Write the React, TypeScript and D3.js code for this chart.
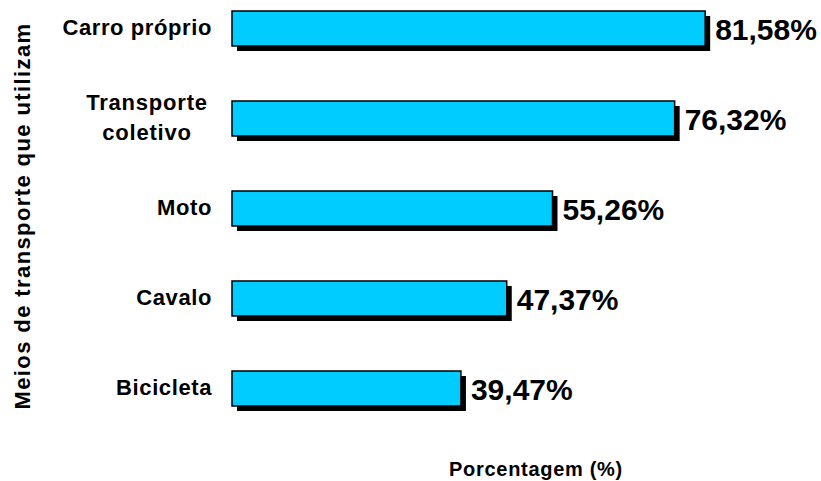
import React from "react";
import * as d3 from "d3";

const categories: string[][] = [
  ["Carro próprio"],
  ["Transporte", "coletivo"],
  ["Moto"],
  ["Cavalo"],
  ["Bicicleta"],
];
const values: number[] = [81.58, 76.32, 55.26, 47.37, 39.47];
const valueLabels: string[] = ["81,58%", "76,32%", "55,26%", "47,37%", "39,47%"];
const yTitle = "Meios de transporte que utilizam";
const xTitle = "Porcentagem (%)";

const W = 821;
const H = 481;
const FONT = "'Liberation Sans', Arial, sans-serif";

export default function App() {
  const x = d3.scaleLinear().domain([0, 100]).range([232, 812]);
  const y = d3
    .scaleBand<number>()
    .domain(d3.range(values.length))
    .range([-16.5, 433.5])
    .paddingInner(0.611)
    .paddingOuter(0.3055);
  const bh = y.bandwidth();
  const sh = 5;
  return (
    <svg
      width={W}
      height={H}
      style={{ position: "absolute", left: 0, top: 0, background: "#fff" }}
      fontFamily={FONT}
    >
      {values.map((v, i) => {
        const y0 = y(i)!;
        const cy = y0 + bh / 2;
        const lines = categories[i];
        const lh = 30;
        return (
          <g key={i}>
            <rect x={x(0) + sh} y={y0 + sh} width={x(v) - x(0)} height={bh} fill="#000" />
            <rect
              x={x(0)}
              y={y0}
              width={x(v) - x(0)}
              height={bh}
              fill="#00ccff"
              stroke="#000"
              strokeWidth={1.5}
            />
            <text
              x={x(v) + sh + 5}
              y={cy + 11}
              fontSize={30}
              fontWeight="bold"
              fill="#000"
            >
              {valueLabels[i]}
            </text>
            {lines.length === 1 ? (
              <text
                x={212}
                y={cy + 6.5}
                textAnchor="end"
                fontSize={22}
                fontWeight="bold"
                letterSpacing={0.6}
              >
                {lines[0]}
              </text>
            ) : (
              lines.map((l, j) => (
                <text
                  key={j}
                  x={147}
                  y={cy + 6.5 + (j - (lines.length - 1) / 2) * lh}
                  textAnchor="middle"
                  fontSize={22}
                  fontWeight="bold"
                  letterSpacing={0.8}
                >
                  {l}
                </text>
              ))
            )}
          </g>
        );
      })}
      <text
        transform={`translate(30, 216) rotate(-90)`}
        textAnchor="middle"
        fontSize={22}
        fontWeight="bold"
        letterSpacing={1.4}
      >
        {yTitle}
      </text>
      <text x={536} y={476} textAnchor="middle" fontSize={20} fontWeight="bold" letterSpacing={0.7}>
        {xTitle}
      </text>
    </svg>
  );
}
